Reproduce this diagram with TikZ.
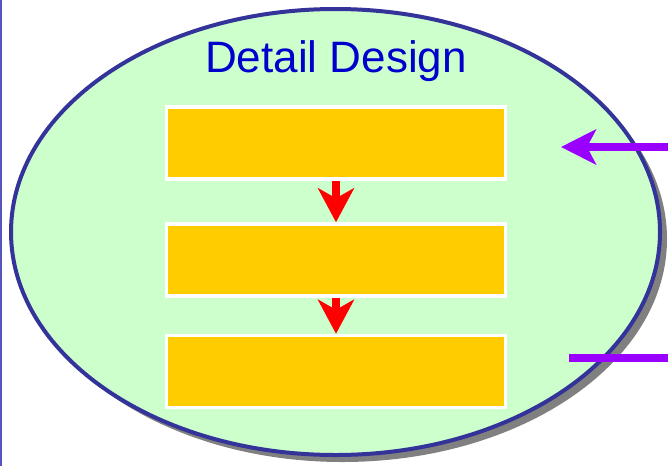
\documentclass[tikz,border=0pt]{standalone}
\usepackage{fontspec}
\setmainfont{Liberation Sans}
\usepackage{tikz}
\usetikzlibrary{arrows.meta, shapes.geometric, shadows}

\definecolor{phasegreen}{HTML}{CCFFCC}
\definecolor{phaseblue}{HTML}{333399}
\definecolor{titleblue}{HTML}{0000CC}
\definecolor{taskorange}{HTML}{FFCC00}
\definecolor{flowpurple}{HTML}{9900FF}
\definecolor{edgeblue}{HTML}{5555BB}

\tikzset{
  phase/.style={ellipse, draw=phaseblue, line width=4pt, fill=phasegreen,
    minimum width=649pt, minimum height=446pt,
    drop shadow={shadow xshift=7pt, shadow yshift=-7pt, fill=gray, opacity=1}},
  taskbox/.style={rectangle, draw=white, line width=3.5pt, fill=taskorange,
    minimum width=339pt, minimum height=72pt, inner sep=0pt},
  flow/.style={red, line width=8pt, -{Stealth[length=34pt, width=36pt, inset=10pt]}},
  feed/.style={flowpurple, line width=8pt}
}

\begin{document}
\begin{tikzpicture}[x=1pt, y=-1pt]
    \useasboundingbox (0,0) rectangle (668,466);
    \draw[edgeblue, line width=2pt] (1,0) -- (1,466);
    \node[phase] (detail) at (335.5,232) {};
    \node[anchor=base, text=titleblue, font=\fontsize{44}{50}\selectfont] (title) at (336,72.5) {Detail Design};
    \foreach \n/\y in {first/143, second/260, third/371.5} {
      \node[taskbox] (\n) at (336,\y) {};
    }
    \draw[flow] (first) -- (second);
    \draw[flow] (second) -- (third);
    \coordinate (inA) at (668,147);
    \coordinate (inB) at (561,147);
    \coordinate (outA) at (569,358);
    \coordinate (outB) at (668,358);
    \draw[feed, -{Stealth[length=35pt, width=35pt, inset=9pt]}] (inA) -- (inB);
    \draw[feed] (outA) -- (outB);
  \end{tikzpicture}
\end{document}
